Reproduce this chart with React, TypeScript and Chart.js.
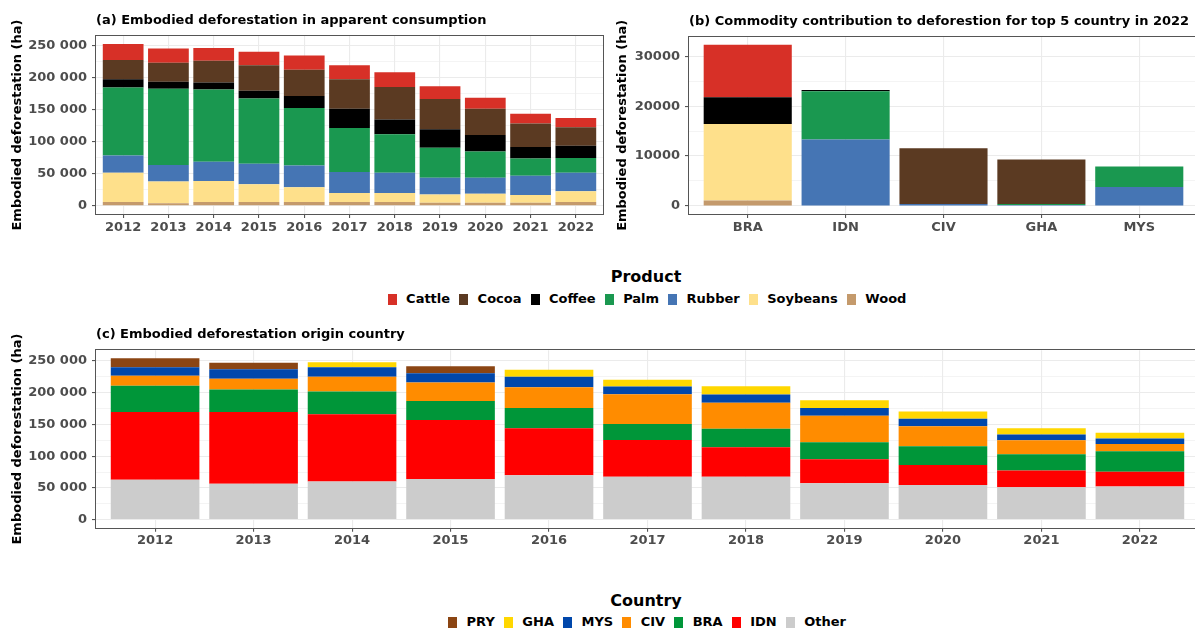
import React, { useEffect, useRef } from "react";
import { Chart, registerables } from "chart.js";
Chart.register(...registerables);

const FONT = "'DejaVu Sans', sans-serif";
const TICK_TEXT = "#4d4d4d";
const GRID_MAJOR = "#ebebeb";
const AXIS_LINE = "#555555";

// ---------- Panel (a): embodied deforestation by product ----------
const YEARS = ["2012", "2013", "2014", "2015", "2016", "2017", "2018", "2019", "2020", "2021", "2022"];
const PRODUCTS = ["Cattle", "Cocoa", "Coffee", "Palm", "Rubber", "Soybeans", "Wood"];
const PRODUCT_COLORS = ["#d73027", "#5b3a22", "#000000", "#1a9850", "#4575b4", "#fee08b", "#c49a6c"];

const A_CATTLE = [25000, 22000, 20000, 21000, 22000, 22000, 23000, 20000, 17000, 15000, 14500];
const A_COCOA = [30000, 30000, 34000, 40000, 41000, 46000, 51000, 47000, 41000, 37000, 29000];
const A_COFFEE = [13000, 11000, 11000, 12000, 19000, 30000, 23000, 29000, 26000, 18000, 19000];
const A_PALM = [106000, 119000, 113000, 102000, 90000, 69000, 60000, 47000, 41000, 27000, 23000];
const A_RUBBER = [27000, 26000, 30000, 32000, 34000, 33000, 32000, 26000, 25000, 30000, 29000];
const A_SOYBEANS = [46000, 34000, 33000, 28000, 23000, 14000, 14000, 13000, 14000, 12000, 17000];
const A_WOOD = [6000, 4000, 6000, 6000, 6000, 6000, 6000, 5000, 5000, 5000, 6000];

const A_MAJOR_TICKS = [0, 50000, 100000, 150000, 200000, 250000];
const A_MINOR_TICKS = [25000, 75000, 125000, 175000, 225000];

// ---------- Panel (b): top 5 countries in 2022 ----------
const B_COUNTRIES = ["BRA", "IDN", "CIV", "GHA", "MYS"];
const B_CATTLE = [10500, 0, 0, 0, 0];
const B_COCOA = [0, 0, 11150, 8900, 0];
const B_COFFEE = [5400, 250, 0, 0, 0];
const B_PALM = [0, 9700, 0, 200, 4100];
const B_RUBBER = [0, 13300, 400, 200, 3800];
const B_SOYBEANS = [15300, 0, 0, 0, 0];
const B_WOOD = [1100, 0, 0, 0, 0];

const B_MAJOR_TICKS = [0, 10000, 20000, 30000];
const B_MINOR_TICKS = [5000, 15000, 25000];

// ---------- Panel (c): origin country ----------
const COUNTRIES = ["PRY", "GHA", "MYS", "CIV", "BRA", "IDN", "Other"];
const COUNTRY_COLORS = ["#8b4513", "#ffd700", "#0047ab", "#ff8c00", "#009639", "#ff0000", "#cccccc"];

const C_PRY = [14000, 10000, 0, 11000, 0, 0, 0, 0, 0, 0, 0];
const C_GHA = [0, 0, 8000, 0, 11000, 11000, 13000, 12000, 11500, 10000, 9400];
const C_MYS = [13500, 15000, 15000, 14600, 16300, 12000, 13000, 12300, 12000, 9000, 8600];
const C_CIV = [15500, 17000, 23000, 29300, 32700, 47000, 41000, 41700, 31400, 22000, 11300];
const C_BRA = [41500, 35500, 36000, 29700, 32000, 25000, 29000, 27000, 29600, 25600, 32400];
const C_IDN = [106500, 113000, 106000, 93000, 74000, 58000, 46500, 37500, 31600, 26400, 23000];
const C_OTHER = [63000, 56500, 60000, 64000, 70000, 67500, 67500, 57500, 54400, 51000, 52300];

const C_MAJOR_TICKS = [0, 50000, 100000, 150000, 200000, 250000];
const C_MINOR_TICKS = [25000, 75000, 125000, 175000, 225000];

const spaced = (v: number) => String(v).replace(/\B(?=(\d{3})+(?!\d))/g, " ");
const plain = (v: number) => String(v);

type Series = { label: string; color: string; values: number[] };

type PanelProps = {
  left: number;
  top: number;
  width: number;
  height: number;
  padTop: number;
  padRight: number;
  yWidth: number;
  xHeight: number;
  yTitlePad: number;
  categories: string[];
  series: Series[]; // bottom first
  yMin: number;
  yMax: number;
  majors: number[];
  minors: number[];
  fmt: (v: number) => string;
  title: string;
};

function Panel(p: PanelProps) {
  const ref = useRef<HTMLCanvasElement | null>(null);
  useEffect(() => {
    if (!ref.current) return;
    const n = p.categories.length;
    const allTicks = [...p.majors, ...p.minors].sort((a, b) => a - b);
    const isMajor = (v: number) => p.majors.includes(v);
    const frame = {
      id: "panelFrame",
      afterDraw(chart: any) {
        const { ctx, chartArea } = chart;
        ctx.save();
        ctx.strokeStyle = AXIS_LINE;
        ctx.lineWidth = 1;
        const l = Math.round(chartArea.left) - 0.5;
        const t = Math.round(chartArea.top) - 0.5;
        const r = Math.round(chartArea.right) + 0.5;
        const b = Math.round(chartArea.bottom) + 0.5;
        ctx.strokeRect(l, t, r - l, b - t);
        ctx.fillStyle = "#000";
        ctx.font = `bold 13px ${FONT}`;
        ctx.textAlign = "left";
        ctx.textBaseline = "middle";
        ctx.fillText(p.title, chartArea.left, chartArea.top - 15.3);
        ctx.restore();
      },
    };
    const chart = new Chart(ref.current, {
      type: "bar",
      data: {
        datasets: p.series.map((s) => ({
          label: s.label,
          data: s.values.map((v, i) => ({ x: i, y: v })),
          backgroundColor: s.color,
          borderWidth: 0,
          barPercentage: 0.9,
          categoryPercentage: 1,
        })),
      },
      options: {
        responsive: false,
        animation: false,
        events: [],
        layout: { padding: { left: 0, top: p.padTop, right: p.padRight, bottom: 0 } },
        plugins: { legend: { display: false }, tooltip: { enabled: false }, title: { display: false } },
        scales: {
          x: {
            type: "linear",
            stacked: true,
            min: -0.6,
            max: n - 0.4,
            offset: false,
            border: { display: false },
            grid: { offset: false, color: GRID_MAJOR, lineWidth: 1.1, tickLength: 4, tickColor: AXIS_LINE },
            ticks: {
              autoSkip: false,
              maxRotation: 0,
              minRotation: 0,
              padding: 1.5,
              color: TICK_TEXT,
              font: { family: FONT, weight: "bold", size: 13 },
              callback: (v: any) => p.categories[v] ?? "",
            },
            afterBuildTicks: (s: any) => {
              s.ticks = p.categories.map((_, i) => ({ value: i }));
            },
            afterFit: (s: any) => {
              s.height = p.xHeight;
            },
          } as any,
          y: {
            type: "linear",
            stacked: true,
            min: p.yMin,
            max: p.yMax,
            border: { display: false },
            grid: {
              color: GRID_MAJOR,
              lineWidth: (c: any) => (isMajor(c.tick?.value) ? 1.1 : 0.55),
              tickLength: 4,
              tickColor: (c: any) => (isMajor(c.tick?.value) ? AXIS_LINE : "rgba(0,0,0,0)"),
            },
            ticks: {
              autoSkip: false,
              padding: 5,
              color: TICK_TEXT,
              font: { family: FONT, weight: "bold", size: 13 },
              callback: (v: any) => (isMajor(v) ? p.fmt(v) : ""),
            },
            afterBuildTicks: (s: any) => {
              s.ticks = allTicks.map((v) => ({ value: v }));
            },
            afterFit: (s: any) => {
              s.width = p.yWidth;
            },
            title: {
              display: true,
              text: "Embodied deforestation (ha)",
              color: "#000",
              font: { family: FONT, weight: "bold", size: 13 },
              padding: { top: p.yTitlePad, bottom: 0 },
            },
          } as any,
        },
      } as any,
      plugins: [frame],
    });
    return () => chart.destroy();
  }, []);
  return (
    <canvas
      ref={ref}
      width={p.width}
      height={p.height}
      style={{ position: "absolute", left: p.left, top: p.top, width: p.width, height: p.height }}
    />
  );
}

function Legend(props: { title: string; labels: string[]; colors: string[]; titleY: number; itemsY: number }) {
  return (
    <>
      <div
        style={{
          position: "absolute",
          left: 346,
          width: 600,
          top: props.titleY - 10,
          height: 20,
          lineHeight: "20px",
          textAlign: "center",
          fontWeight: "bold",
          fontSize: 16,
          color: "#000",
        }}
      >
        {props.title}
      </div>
      <div
        style={{
          position: "absolute",
          left: 347,
          width: 600,
          top: props.itemsY - 8,
          height: 16,
          display: "flex",
          justifyContent: "center",
          alignItems: "center",
          fontWeight: "bold",
          fontSize: 13,
          lineHeight: "16px",
          color: "#000",
          whiteSpace: "nowrap",
        }}
      >
        {props.labels.map((l, i) => (
          <span key={l} style={{ display: "flex", alignItems: "center", marginLeft: i === 0 ? 0 : 9 }}>
            <span style={{ display: "inline-block", width: 9, height: 11, background: props.colors[i], marginRight: 9.5 }} />
            <span>{l}</span>
          </span>
        ))}
      </div>
    </>
  );
}

export default function App() {
  const productSeriesA: Series[] = [
    { label: "Wood", color: PRODUCT_COLORS[6], values: A_WOOD },
    { label: "Soybeans", color: PRODUCT_COLORS[5], values: A_SOYBEANS },
    { label: "Rubber", color: PRODUCT_COLORS[4], values: A_RUBBER },
    { label: "Palm", color: PRODUCT_COLORS[3], values: A_PALM },
    { label: "Coffee", color: PRODUCT_COLORS[2], values: A_COFFEE },
    { label: "Cocoa", color: PRODUCT_COLORS[1], values: A_COCOA },
    { label: "Cattle", color: PRODUCT_COLORS[0], values: A_CATTLE },
  ];
  const productSeriesB: Series[] = [
    { label: "Wood", color: PRODUCT_COLORS[6], values: B_WOOD },
    { label: "Soybeans", color: PRODUCT_COLORS[5], values: B_SOYBEANS },
    { label: "Rubber", color: PRODUCT_COLORS[4], values: B_RUBBER },
    { label: "Palm", color: PRODUCT_COLORS[3], values: B_PALM },
    { label: "Coffee", color: PRODUCT_COLORS[2], values: B_COFFEE },
    { label: "Cocoa", color: PRODUCT_COLORS[1], values: B_COCOA },
    { label: "Cattle", color: PRODUCT_COLORS[0], values: B_CATTLE },
  ];
  const countrySeries: Series[] = [
    { label: "Other", color: COUNTRY_COLORS[6], values: C_OTHER },
    { label: "IDN", color: COUNTRY_COLORS[5], values: C_IDN },
    { label: "BRA", color: COUNTRY_COLORS[4], values: C_BRA },
    { label: "CIV", color: COUNTRY_COLORS[3], values: C_CIV },
    { label: "MYS", color: COUNTRY_COLORS[2], values: C_MYS },
    { label: "GHA", color: COUNTRY_COLORS[1], values: C_GHA },
    { label: "PRY", color: COUNTRY_COLORS[0], values: C_PRY },
  ];
  return (
    <div
      style={{
        position: "absolute",
        left: 0,
        top: 0,
        width: 1195,
        height: 629,
        overflow: "hidden",
        background: "#fff",
        fontFamily: FONT,
      }}
    >
      <Panel
        left={0}
        top={0}
        width={610}
        height={250}
        padTop={36}
        padRight={7}
        yWidth={96}
        xHeight={36}
        yTitlePad={9.7}
        categories={YEARS}
        series={productSeriesA}
        yMin={-12650}
        yMax={265650}
        majors={A_MAJOR_TICKS}
        minors={A_MINOR_TICKS}
        fmt={spaced}
        title="(a) Embodied deforestation in apparent consumption"
      />
      <Panel
        left={610}
        top={0}
        width={590}
        height={250}
        padTop={36.7}
        padRight={2}
        yWidth={79}
        xHeight={36}
        yTitlePad={4.7}
        categories={B_COUNTRIES}
        series={productSeriesB}
        yMin={-1615}
        yMax={33915}
        majors={B_MAJOR_TICKS}
        minors={B_MINOR_TICKS}
        fmt={plain}
        title="(b) Commodity contribution to deforestion for top 5 country in 2022"
      />
      <Panel
        left={0}
        top={320}
        width={1200}
        height={240}
        padTop={30.3}
        padRight={1}
        yWidth={96}
        xHeight={32.3}
        yTitlePad={9.7}
        categories={YEARS}
        series={countrySeries}
        yMin={-12700}
        yMax={266700}
        majors={C_MAJOR_TICKS}
        minors={C_MINOR_TICKS}
        fmt={spaced}
        title="(c) Embodied deforestation origin country"
      />
      <Legend title="Product" labels={PRODUCTS} colors={PRODUCT_COLORS} titleY={277} itemsY={299} />
      <Legend title="Country" labels={COUNTRIES} colors={COUNTRY_COLORS} titleY={601} itemsY={622} />
    </div>
  );
}
